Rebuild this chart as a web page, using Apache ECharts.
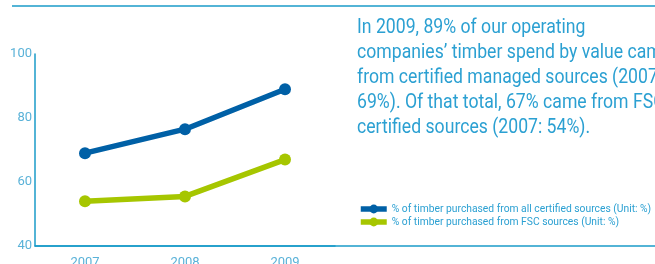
<!DOCTYPE html>
<html>
<head>
<meta charset="utf-8">
<script src="https://cdn.jsdelivr.net/npm/echarts@6/dist/echarts.min.js"></script>
<style>
  html, body { margin: 0; padding: 0; background: #fff; }
  #chart { width: 655px; height: 264px; }
</style>
</head>
<body>
<div id="chart"></div>
<script>
var years = ["2007", "2008", "2009"];
var allCertified = [69, 76.5, 89];
var fscSources = [54, 55.5, 67];
var yTicks = { min: 40, max: 100, interval: 20 };

var blue = "#0060a6";
var green = "#a6c600";
var cyan = "#1a9bc9";
var textBlue = "#2ba0d2";
var font = "Roboto, sans-serif";

var myChart = echarts.init(document.getElementById("chart"));

var option = {
  backgroundColor: "#fff",
  animation: false,
  grid: { left: 35, right: 320, top: 54, bottom: 18, outerBoundsMode: "none" },
  legend: {
    orient: "vertical",
    left: 353,
    top: 199,
    itemWidth: 26,
    itemHeight: 11,
    itemGap: 3,
    lineStyle: { width: 5.5 },
    textStyle: { color: textBlue, fontSize: 10.3, fontFamily: font },
    data: [
      "% of timber purchased from all certified sources (Unit: %)",
      "% of timber purchased from FSC sources (Unit: %)"
    ]
  },
  xAxis: {
    type: "category",
    data: years,
    boundaryGap: true,
    axisLine: { lineStyle: { color: cyan, width: 1.5 } },
    axisTick: { show: false },
    axisLabel: { color: "#5ab2d8", fontSize: 13, fontFamily: font, margin: 10 }
  },
  yAxis: {
    type: "value",
    min: yTicks.min,
    max: yTicks.max,
    interval: yTicks.interval,
    axisLine: { show: true, lineStyle: { color: cyan, width: 1.5 } },
    axisTick: { show: false },
    splitLine: { show: false },
    axisLabel: { color: "#5ab2d8", fontSize: 13, fontFamily: font, margin: 3 }
  },
  graphic: [
    { type: "line", shape: { x1: 12, y1: 6, x2: 655, y2: 6 }, style: { stroke: cyan, lineWidth: 1.5 } },
    { type: "line", shape: { x1: 35, y1: 246, x2: 655, y2: 246 }, style: { stroke: cyan, lineWidth: 1.5 } },
    {
      type: "text",
      x: 357,
      y: 15,
      scaleX: 0.84,
      style: {
        text: "In 2009, 89% of our operating\ncompanies\u2019 timber spend by value came\nfrom certified managed sources (2007:\n69%). Of that total, 67% came from FSC\ncertified sources (2007: 54%).",
        fill: textBlue,
        fontSize: 21,
        lineHeight: 25,
        fontFamily: font
      }
    }
  ],
  series: [
    {
      name: "% of timber purchased from all certified sources (Unit: %)",
      type: "line",
      data: allCertified,
      symbol: "circle",
      symbolSize: 12,
      lineStyle: { color: blue, width: 5.5 },
      itemStyle: { color: blue }
    },
    {
      name: "% of timber purchased from FSC sources (Unit: %)",
      type: "line",
      data: fscSources,
      symbol: "circle",
      symbolSize: 12,
      lineStyle: { color: green, width: 5.5 },
      itemStyle: { color: green }
    }
  ]
};

myChart.setOption(option);
window.addEventListener("resize", function () {
  myChart.resize();
});
</script>
</body>
</html>
